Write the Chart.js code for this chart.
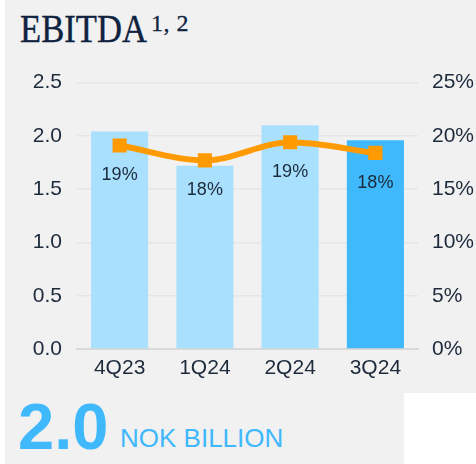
<!DOCTYPE html>
<html>
<head>
<meta charset="utf-8">
<script src="https://cdn.jsdelivr.net/npm/chart.js@4"></script>
<style>
    body { margin: 0; background: #ffffff; width: 476px; height: 464px; overflow: hidden; position: relative; }
    #bg { position: absolute; left: 5px; top: 0; width: 471px; height: 464px; background: #f1f1f1; }
    #whiteBox { position: absolute; left: 404px; top: 393px; width: 72px; height: 71px; background: #ffffff; }
    #title { position: absolute; left: 20px; top: 8px; font-family: "Liberation Serif", serif; font-size: 41px; line-height: 1; color: #0f2340; transform: scaleX(0.845); transform-origin: left top; white-space: nowrap; -webkit-text-stroke: 0.4px #0f2340; }
    #sup { position: absolute; left: 151px; top: 11px; font-family: "Liberation Serif", serif; font-size: 24px; line-height: 1; color: #0f2340; letter-spacing: 0.5px; white-space: nowrap; -webkit-text-stroke: 0.3px #0f2340; }
    #bigValue { position: absolute; left: 18px; top: 394px; font-family: "Liberation Sans", Arial, sans-serif; font-weight: bold; font-size: 65px; line-height: 1; color: #40b8fc; }
    #unit { position: absolute; left: 120px; top: 425px; font-family: "Liberation Sans", Arial, sans-serif; font-size: 26px; line-height: 1; color: #40b8fc; white-space: nowrap; }
    #chart { position: absolute; left: 0; top: 55px; }
</style>
</head>
<body>
<div id="bg"></div>
<div id="whiteBox"></div>
<div id="title">EBITDA</div>
<div id="sup">1, 2</div>
<canvas id="chart" width="476" height="335"></canvas>
<div id="bigValue">2.0</div>
<div id="unit">NOK BILLION</div>

<script>
// データ
const quarters = ["4Q23", "1Q24", "2Q24", "3Q24"];
const ebitdaValues = [2.04, 1.72, 2.10, 1.96];   // NOK billion
const marginValues = [19.1, 17.7, 19.4, 18.4];   // EBITDA margin %
const marginLabels = ["19%", "18%", "19%", "18%"];

const textColor = "#1c2a3b";
const fontFamily = "'Liberation Sans', Arial, sans-serif";

// マージンのラベルを点の下に描く
const marginLabelPlugin = {
    id: "marginLabels",
    afterDatasetsDraw(chart) {
        const ctx = chart.ctx;
        const meta = chart.getDatasetMeta(1);
        ctx.save();
        ctx.font = "18px " + fontFamily;
        ctx.fillStyle = textColor;
        ctx.textAlign = "center";
        ctx.textBaseline = "middle";
        meta.data.forEach(function (pt, i) {
            ctx.fillText(marginLabels[i], pt.x, pt.y + 30);
        });
        ctx.restore();
    }
};

new Chart(document.getElementById("chart"), {
    data: {
        labels: quarters,
        datasets: [
            {
                type: "bar",
                data: ebitdaValues,
                yAxisID: "y",
                backgroundColor: ["#a8e0fd", "#a8e0fd", "#a8e0fd", "#40b8fc"],
                barPercentage: 0.67,
                categoryPercentage: 1,
                order: 1
            },
            {
                type: "line",
                data: marginValues,
                yAxisID: "y1",
                borderColor: "#ff9a00",
                borderWidth: 6,
                cubicInterpolationMode: "monotone",
                pointStyle: "rect",
                pointRadius: 10,
                pointBorderWidth: 0,
                pointBackgroundColor: "#ff9a00",
                order: 0
            }
        ]
    },
    options: {
        responsive: false,
        animation: false,
        layout: { padding: { top: 22, left: 0, right: 0, bottom: 0 } },
        plugins: {
            legend: { display: false },
            tooltip: { enabled: false }
        },
        scales: {
            x: {
                grid: { display: false, drawTicks: false },
                border: { display: true, color: "#d9d9d9", width: 2 },
                ticks: { color: textColor, font: { family: fontFamily, size: 21 }, padding: 7 },
                afterFit: function (scale) { scale.height = 41; }
            },
            y: {
                position: "left",
                min: 0,
                max: 2.5,
                grid: { color: "#e6e6e6", lineWidth: 1.5, drawTicks: false },
                border: { display: false },
                ticks: {
                    stepSize: 0.5,
                    padding: 15,
                    color: textColor,
                    font: { family: fontFamily, size: 21 },
                    callback: function (v) { return v.toFixed(1); }
                },
                afterFit: function (scale) { scale.width = 77; }
            },
            y1: {
                position: "right",
                min: 0,
                max: 25,
                grid: { display: false, drawTicks: false },
                border: { display: false },
                ticks: {
                    stepSize: 5,
                    padding: 14,
                    color: textColor,
                    font: { family: fontFamily, size: 21 },
                    callback: function (v) { return v + "%"; }
                },
                afterFit: function (scale) { scale.width = 58; }
            }
        }
    },
    plugins: [marginLabelPlugin]
});
</script>
</body>
</html>
